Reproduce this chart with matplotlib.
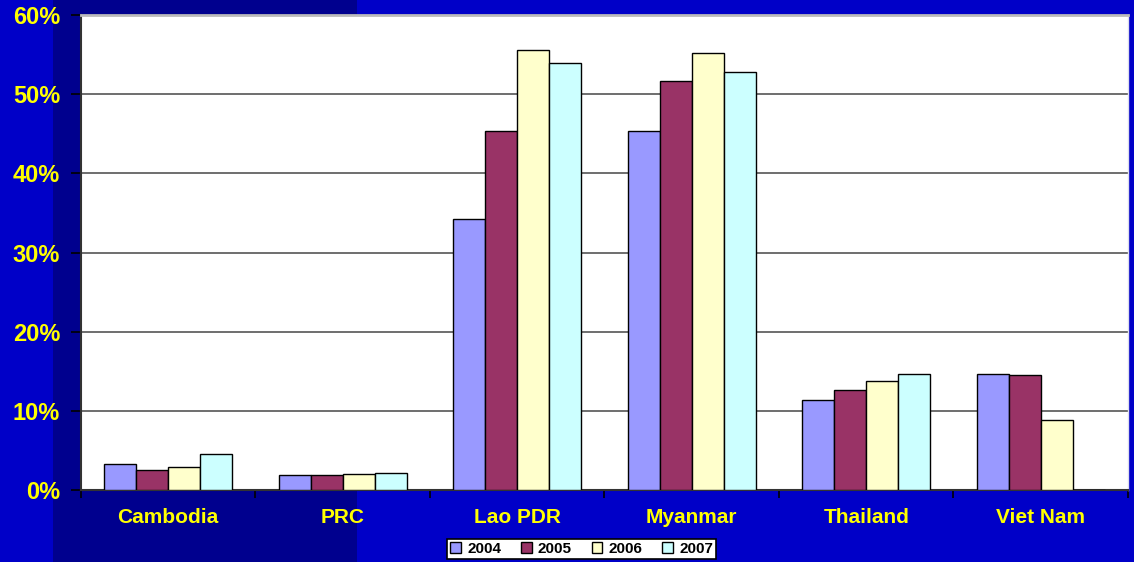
import matplotlib
matplotlib.use("Agg")
import matplotlib.pyplot as plt
import numpy as np
from matplotlib.patches import Rectangle
from matplotlib.ticker import FuncFormatter, FixedLocator

plt.rcParams['font.family'] = ['Liberation Sans', 'DejaVu Sans']

countries = ["Cambodia", "PRC", "Lao PDR", "Myanmar", "Thailand", "Viet Nam"]
years = ["2004", "2005", "2006", "2007"]
share_2004 = [3.3, 1.9, 34.2, 45.4, 11.4, 14.7]
share_2005 = [2.5, 1.9, 45.4, 51.7, 12.6, 14.5]
share_2006 = [2.95, 2.0, 55.6, 55.2, 13.8, 8.9]
share_2007 = [4.55, 2.15, 53.9, 52.8, 14.6, 0.0]
series = [share_2004, share_2005, share_2006, share_2007]
colors = ["#9999FF", "#993366", "#FFFFCC", "#CCFFFF"]

fig = plt.figure(figsize=(11.34, 5.62), dpi=100)
fig.patch.set_facecolor("#0000C8")
band = Rectangle((0.047, 0), 0.2675, 1, transform=fig.transFigure,
                 facecolor="#00008E", edgecolor="none", zorder=-5)
fig.add_artist(band)

ax = fig.add_axes([0.0714, 0.1281, 0.9233, 0.8452])
ax.set_zorder(1)
ax.set_facecolor("white")

x = np.arange(len(countries))
bw = 0.183
for i, (vals, c, yr) in enumerate(zip(series, colors, years)):
    ax.bar(x + (i - 1.5) * bw, vals, width=bw, color=c, edgecolor="black",
           linewidth=1.0, label=yr, zorder=3)

ax.set_xlim(-0.5, len(countries) - 0.5)
ax.set_ylim(0, 60)
ax.set_yticks(np.arange(0, 61, 10))
ax.yaxis.set_major_formatter(FuncFormatter(lambda v, p: f"{int(v)}%"))
ax.grid(axis="y", color="#555555", linewidth=1.2, zorder=1)
ax.set_axisbelow(True)

ax.set_xticks(x)
ax.set_xticklabels(countries)
ax.xaxis.set_minor_locator(FixedLocator(np.arange(-0.5, len(countries), 1.0)))
ax.tick_params(axis="x", which="major", length=0, pad=13,
               labelsize=15, labelcolor="#FFFF00")
ax.tick_params(axis="x", which="minor", length=6, width=1.2, color="black", direction="out")
ax.tick_params(axis="y", length=7, width=1.2, color="black", direction="out",
               labelsize=17, labelcolor="#FFFF00", pad=8)
for lbl in ax.get_xticklabels() + ax.get_yticklabels():
    lbl.set_fontweight("bold")

for side in ["left", "bottom"]:
    ax.spines[side].set_color("#333333")
    ax.spines[side].set_linewidth(1.5)
ax.spines["top"].set_color("#BBBBBB")
ax.spines["top"].set_linewidth(2)
ax.spines["right"].set_color("#DDDDEE")
ax.spines["right"].set_linewidth(1)

leg = fig.legend(loc="center", bbox_to_anchor=(0.513, 0.0231), ncol=4,
                 frameon=True, fancybox=False, edgecolor="black",
                 facecolor="white", framealpha=1,
                 prop={"weight": "bold", "size": 11}, handlelength=0.7,
                 handleheight=0.7, handletextpad=0.4, columnspacing=1.3,
                 borderpad=0.2, borderaxespad=0)
leg.get_frame().set_linewidth(1.2)

fig.savefig("out.png", dpi=100, facecolor=fig.get_facecolor())
